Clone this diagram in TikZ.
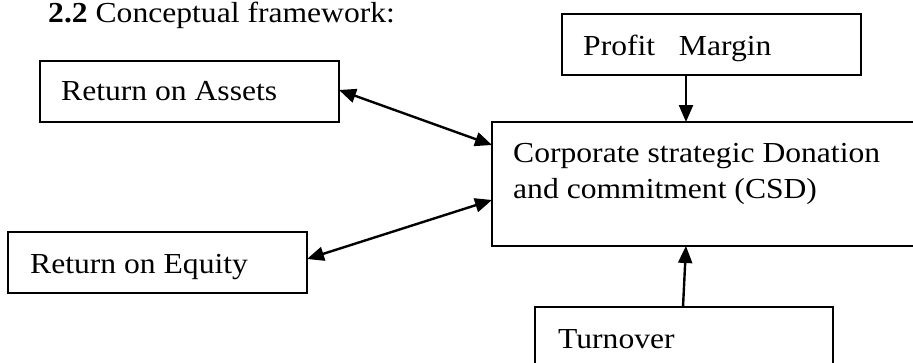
\documentclass[tikz,border=0pt]{standalone}
\usepackage{fontspec}
\setmainfont{Liberation Serif}[FakeStretch=1.09]
\usetikzlibrary{arrows.meta,calc}
\begin{document}
\begin{tikzpicture}[x=1pt,y=-1pt,
 box/.style={draw,line width=2.1pt,inner sep=0pt,outer sep=0pt,anchor=north west},
 txt/.style={inner sep=0pt,anchor=base west,font=\fontsize{29}{34}\selectfont},
 tip/.style={Triangle[length=17pt,width=14pt]},
 link/.style={line width=2.4pt,-{Triangle[length=17pt,width=14pt]}},
 dlink/.style={line width=2.4pt,{Triangle[length=17pt,width=14pt]}-{Triangle[length=17pt,width=14pt]}}]
\clip (0,0) rectangle (913,362);
\useasboundingbox (0,0) rectangle (913,362);
\node[txt] (title) at (48,22.5) {\textbf{2.2} Conceptual framework:};
\node[box,minimum width=299,minimum height=61] (roa) at (40,61) {};
\node[txt] (roat) at (61,100) {Return on Assets};
\node[box,minimum width=299,minimum height=61] (roe) at (8,232) {};
\node[txt] (roet) at (30,273) {Return on Equity};
\node[box,minimum width=299,minimum height=61] (pm) at (562,14) {};
\node[txt] (pmt) at (583,55) {Profit\ \ \ Margin};
\node[box,minimum width=440,minimum height=124] (csd) at (492,122) {};
\node[txt] (csdt1) at (513,162) {Corporate strategic Donation};
\node[txt] (csdt2) at (513,198) {and commitment (CSD)};
\node[box,minimum width=298,minimum height=80] (turn) at (535,307) {};
\node[txt] (turnt) at (558,348) {Turnover};
\draw[link] ($(pm.south west)+(124,0)$) -- ($(csd.north west)+(194,0)$);
\draw[link] ($(turn.north west)+(148,0)$) -- ($(csd.south west)+(194,0)$);
\draw[dlink] ($(roa.east)+(0,-1.5)$) -- ($(csd.north west)+(0,23)$);
\draw[dlink] ($(roe.east)+(0,-3.5)$) -- ($(csd.north west)+(0,78)$);
\end{tikzpicture}
\end{document}
